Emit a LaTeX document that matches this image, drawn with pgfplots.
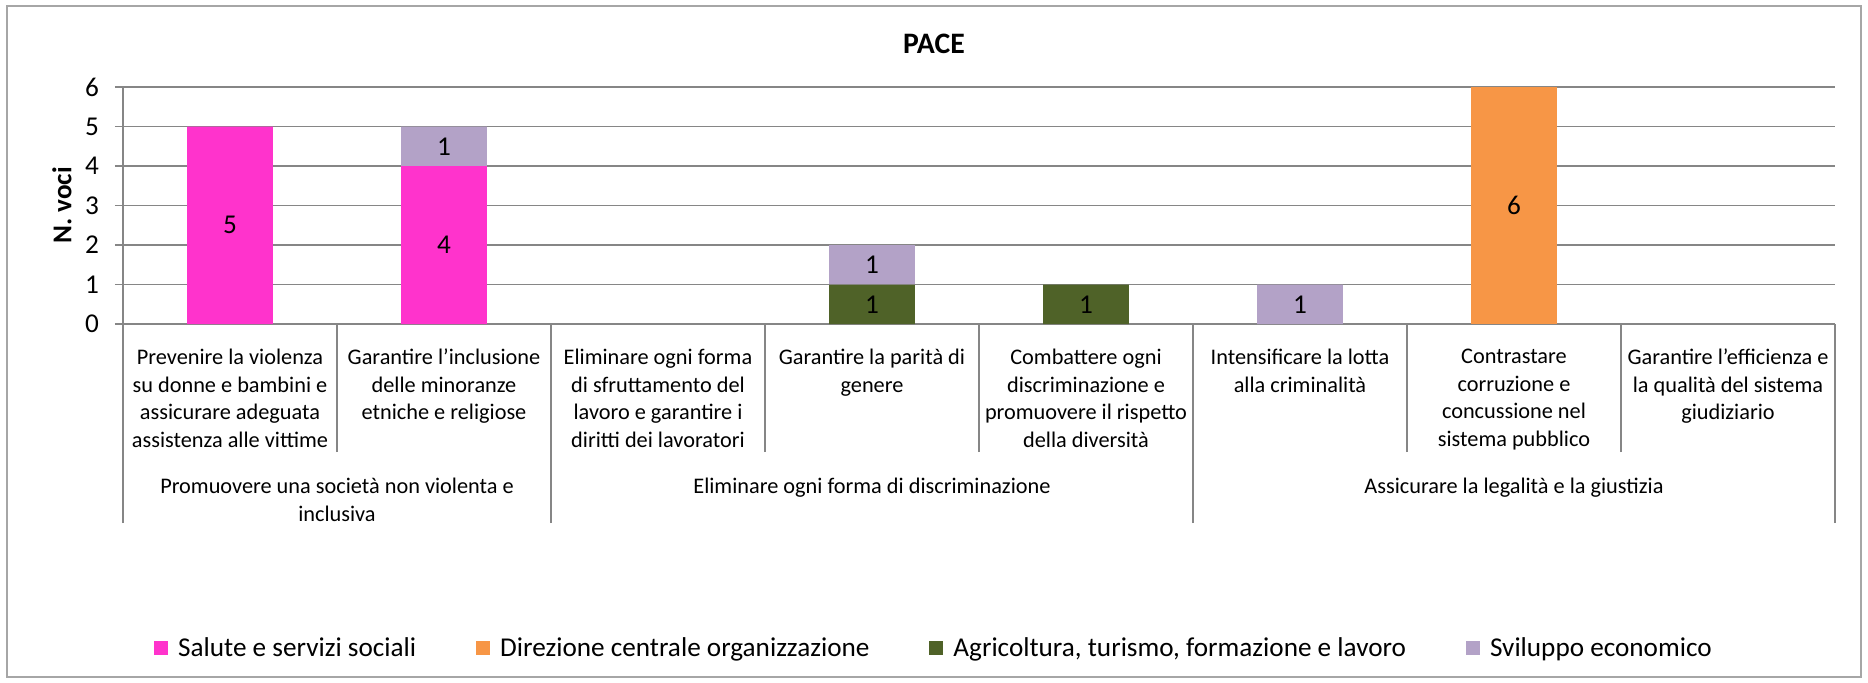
\documentclass[border=0pt]{standalone}
\usepackage{pgfplots}
\pgfplotsset{compat=1.18}
\usepackage{fontspec}
\setmainfont{Carlito}

\definecolor{cSal}{HTML}{FF33CC}
\definecolor{cDir}{HTML}{F79646}
\definecolor{cAgr}{HTML}{4F6228}
\definecolor{cSvi}{HTML}{B3A2C7}
\definecolor{cGrid}{HTML}{868686}
\definecolor{cFrame}{HTML}{A6A6A6}

\newcommand\fbig{\fontsize{27.2bp}{33bp}\selectfont}
\newcommand\fsmall{\fontsize{22.3bp}{27.5bp}\selectfont}

\pgfplotsset{
  base/.style={scale only axis, width=1712bp, height=237bp,
    xmin=-0.5, xmax=7.5, ymin=0, ymax=6,
    /pgf/number format/assume math mode=true},
  over/.style={base, axis line style={draw=none}, ytick=\empty,
    tick align=outside, xtick pos=bottom,
    xtick style={draw=cGrid, line width=1.5bp}},
}

\begin{document}
\begin{tikzpicture}
% frame and page size
\path (-123bp,-359bp) rectangle (1745bp,324bp);
\draw[cFrame, line width=1.5bp] (-116bp,-353bp) rectangle (1738bp,318bp);

\begin{axis}[base, ybar stacked, bar width=0.4,
  axis x line*=bottom, axis y line*=left,
  axis line style={draw=cGrid, line width=1.5bp, -},
  ytick={0,...,6}, ymajorgrids, grid style={draw=cGrid, line width=1.5bp},
  tick align=outside, major tick length=8bp,
  ytick style={draw=cGrid, line width=1.5bp},
  yticklabel style={font=\fbig, anchor=east, inner sep=0pt, xshift=-16bp},
  xtick={0,...,7}, xtick style={draw=none},
  xticklabels={
    {Prevenire la violenza\\su donne e bambini e\\assicurare adeguata\\assistenza alle vittime},
    {Garantire l’inclusione\\delle minoranze\\etniche e religiose},
    {Eliminare ogni forma\\di sfruttamento del\\lavoro e garantire i\\diritti dei lavoratori},
    {Garantire la parità di\\genere},
    {Combattere ogni\\discriminazione e\\promuovere il rispetto\\della diversità},
    {Intensificare la lotta\\alla criminalità},
    {Contrastare\\corruzione e\\concussione nel\\sistema pubblico},
    {Garantire l’efficienza e\\la qualità del sistema\\giudiziario}},
  xticklabel style={font=\fsmall, align=center, anchor=north, inner sep=0pt, yshift=-17bp},
  title={PACE},
  title style={font=\fontsize{29.7bp}{36bp}\selectfont\bfseries, at={(0.4737,1.155)}, anchor=center},
  ylabel={N. voci},
  ylabel style={font=\fbig\bfseries, at={(axis description cs:-0.0356,0.5)}, anchor=center},
  legend columns=4,
  legend style={draw=none, font=\fbig, at={(0.4737,-1.367)}, anchor=center,
    /tikz/every odd column/.append style={column sep=8bp},
    /tikz/every even column/.append style={column sep=58bp}},
  legend image code/.code={\fill[#1] (0bp,-7bp) rectangle (14bp,7bp);},
]
\addplot[fill=cSal, draw=none] coordinates {(0,5) (1,4) (2,0) (3,0) (4,0) (5,0) (6,0) (7,0)};
\addlegendentry{Salute e servizi sociali}
\addplot[fill=cDir, draw=none] coordinates {(0,0) (1,0) (2,0) (3,0) (4,0) (5,0) (6,6) (7,0)};
\addlegendentry{Direzione centrale organizzazione}
\addplot[fill=cAgr, draw=none] coordinates {(0,0) (1,0) (2,0) (3,1) (4,1) (5,0) (6,0) (7,0)};
\addlegendentry{Agricoltura, turismo, formazione e lavoro}
\addplot[fill=cSvi, draw=none] coordinates {(0,0) (1,1) (2,0) (3,1) (4,0) (5,1) (6,0) (7,0)};
\addlegendentry{Sviluppo economico}
\end{axis}

% value labels and category separators
\begin{axis}[over, xtick={-0.5,0.5,1.5,2.5,3.5,4.5,5.5,6.5,7.5}, xticklabels={}, major tick length=128bp]
\addplot[draw=none, mark=none, nodes near coords, point meta=explicit,
  every node near coord/.append style={font=\fbig, anchor=center, inner sep=0pt, text=black}]
  coordinates {(0,2.5)[5] (1,2)[4] (1,4.5)[1] (3,0.5)[1] (3,1.5)[1] (4,0.5)[1] (5,0.5)[1] (6,3)[6]};
\end{axis}

% group separators
\begin{axis}[over, xtick={-0.5,1.5,4.5,7.5}, xticklabels={}, major tick length=199bp]
\end{axis}

% group labels
\begin{axis}[over, xtick={0.5,3,6}, major tick length=0bp, xtick style={draw=none},
  xticklabels={
    {Promuovere una società non violenta e\\inclusiva},
    {Eliminare ogni forma di discriminazione},
    {Assicurare la legalità e la giustizia}},
  xticklabel style={font=\fsmall, align=center, anchor=north, inner sep=0pt, yshift=-154bp}]
\end{axis}
\end{tikzpicture}
\end{document}
